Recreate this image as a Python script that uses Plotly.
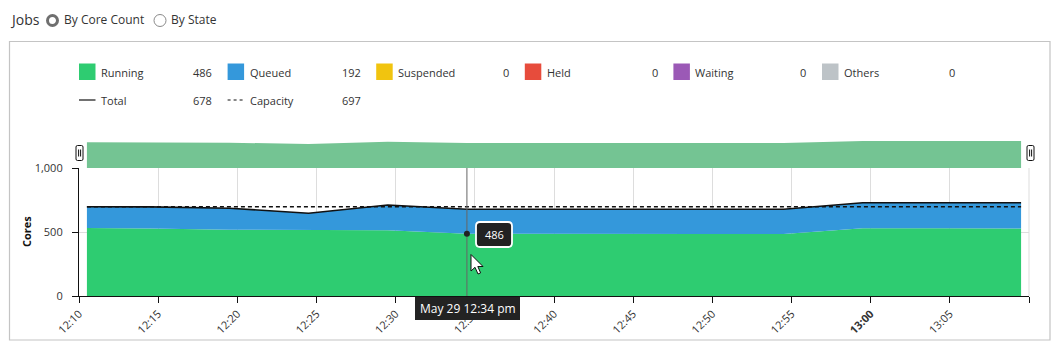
import plotly.graph_objects as go

# ---------------- data ----------------
times = ["2024-05-29 12:10:30", "2024-05-29 12:14:30", "2024-05-29 12:19:30",
         "2024-05-29 12:24:30", "2024-05-29 12:29:30", "2024-05-29 12:34:30",
         "2024-05-29 12:39:30", "2024-05-29 12:44:30", "2024-05-29 12:49:30",
         "2024-05-29 12:54:30", "2024-05-29 12:59:30", "2024-05-29 13:04:30",
         "2024-05-29 13:09:30"]
running = [531, 528, 518, 513, 513, 486, 484, 484, 484, 484, 530, 529, 528]
queued = [166, 168, 168, 133, 198, 192, 194, 194, 194, 194, 199, 200, 201]
suspended = [0] * 13
held = [0] * 13
waiting = [0] * 13
others = [0] * 13
capacity = [697] * 13

tick_times = ["2024-05-29 12:10", "2024-05-29 12:15", "2024-05-29 12:20", "2024-05-29 12:25",
              "2024-05-29 12:30", "2024-05-29 12:35", "2024-05-29 12:40", "2024-05-29 12:45",
              "2024-05-29 12:50", "2024-05-29 12:55", "2024-05-29 13:00", "2024-05-29 13:05",
              "2024-05-29 13:10"]
tick_text = ["12:10", "12:15", "12:20", "12:25", "12:30", "12:35", "12:40", "12:45",
             "12:50", "12:55", "<b>13:00</b>", "13:05", ""]
hover_index = 5
hover_label = "May 29 12:34 pm"

series_names = ["Running", "Queued", "Suspended", "Held", "Waiting", "Others"]
series_colors = ["#2ecc71", "#3498db", "#f1c40f", "#e74c3c", "#9b59b6", "#bdc3c7"]
series_values = [running, queued, suspended, held, waiting, others]

total = [sum(v) for v in zip(*series_values)]

# ---------------- layout helpers ----------------
# page body has an 8px margin: figure covers window pixels 8..(8+W)
OFF = 8
W, H = 1061 - 2 * OFF, 358 - 2 * OFF
L, R, T, B = 79, 1029, 141, 296          # window-pixel coordinates of plot area
MAIN_TOP = 168
FONT = "Open Sans"
TXT = "#333333"


def px(x):
    return (x - L) / (R - L)


def py(y):
    return (B - y) / (B - T)


split = (B - MAIN_TOP) / (B - T)

fig = go.Figure()

# navigator (mini chart)
fig.add_trace(go.Scatter(x=times, y=total, xaxis="x2", yaxis="y2", mode="lines",
                         line=dict(width=0, color="rgb(116,196,147)"), fill="tozeroy",
                         fillcolor="rgb(116,196,147)", hoverinfo="skip", showlegend=False))

# stacked areas
for name, color, vals in zip(series_names, series_colors, series_values):
    fig.add_trace(go.Scatter(x=times, y=vals, name=name, mode="lines", stackgroup="jobs",
                             line=dict(width=0, color=color), fillcolor=color,
                             showlegend=False))

fig.add_trace(go.Scatter(x=times, y=total, name="Total", mode="lines",
                         line=dict(color="#111111", width=1.6), showlegend=False))
fig.add_trace(go.Scatter(x=times, y=capacity, name="Capacity", mode="lines",
                         line=dict(color="#111111", width=1.5, dash="4px,3px"), showlegend=False))

# crosshair (main plot only)
fig.add_trace(go.Scatter(x=[times[hover_index], times[hover_index]], y=[0, 1000], mode="lines",
                         line=dict(color="#666666", width=1), showlegend=False, hoverinfo="skip",
                         cliponaxis=True))

# hover dot
fig.add_trace(go.Scatter(x=[times[hover_index]], y=[running[hover_index]], mode="markers",
                         marker=dict(color="#222222", size=6), showlegend=False, hoverinfo="skip"))

shapes = []
annotations = []

# right edge grid line
shapes.append(dict(type="line", xref="paper", yref="paper", x0=1, x1=1, y0=0, y1=split,
                   line=dict(color="#dddddd", width=1), layer="below"))

# outer frame
shapes.append(dict(type="rect", xref="paper", yref="paper", x0=px(9.5), x1=px(1050), y0=py(41.5), y1=py(340),
                   line=dict(color="#c4c4c4", width=1.2), layer="below"))


def rounded_rect(x0, y0, x1, y1, r):
    pts = (f"M {px(x0 + r)},{py(y0)} L {px(x1 - r)},{py(y0)} "
           f"Q {px(x1)},{py(y0)} {px(x1)},{py(y0 + r)} L {px(x1)},{py(y1 - r)} "
           f"Q {px(x1)},{py(y1)} {px(x1 - r)},{py(y1)} L {px(x0 + r)},{py(y1)} "
           f"Q {px(x0)},{py(y1)} {px(x0)},{py(y1 - r)} L {px(x0)},{py(y0 + r)} "
           f"Q {px(x0)},{py(y0)} {px(x0 + r)},{py(y0)} Z")
    return pts


# navigator handles
for hx in (76, 1027):
    shapes.append(dict(type="path", xref="paper", yref="paper", path=rounded_rect(hx, 145.5, hx + 7, 160.5, 1.5),
                       fillcolor="white", line=dict(color="#111111", width=1), layer="above"))
    for dx in (2.6, 4.6):
        shapes.append(dict(type="line", xref="paper", yref="paper", x0=px(hx + dx), x1=px(hx + dx),
                           y0=py(149.5), y1=py(156.5), line=dict(color="#111111", width=1), layer="above"))

# value label box (486)
shapes.append(dict(type="path", xref="paper", yref="paper", path=rounded_rect(476, 222, 512, 247, 4),
                   fillcolor="#222222", line=dict(color="white", width=1.8), layer="above"))
annotations.append(dict(xref="paper", yref="paper", x=px(494), y=py(234.5), text=str(running[hover_index]),
                        showarrow=False, font=dict(family=FONT, size=11, color="white"),
                        xanchor="center", yanchor="middle"))

# mouse cursor
cx, cy = 471, 254.5
cur = [(0, 0), (0, 16.5), (4, 12.8), (7, 19.5), (9.6, 18.4), (6.8, 12), (12, 12)]
path = "M " + " L ".join(f"{px(cx + a)},{py(cy + b)}" for a, b in cur) + " Z"
shapes.append(dict(type="path", xref="paper", yref="paper", path=path, fillcolor="white",
                   line=dict(color="#111111", width=1), layer="above"))

# x tooltip
shapes.append(dict(type="rect", xref="paper", yref="paper", x0=px(415), x1=px(520), y0=py(297), y1=py(320),
                   fillcolor="#232323", line=dict(width=0), layer="above"))
annotations.append(dict(xref="paper", yref="paper", x=px(467.5), y=py(308.5), text=hover_label,
                        showarrow=False, font=dict(family=FONT, size=12, color="white"),
                        xanchor="center", yanchor="middle"))

# y axis title
annotations.append(dict(xref="paper", yref="paper", x=px(26), y=py(232), text="<b>Cores</b>",
                        textangle=-90, showarrow=False, font=dict(family=FONT, size=11, color="#111111"),
                        xanchor="center", yanchor="middle"))

# header: Jobs + radio buttons
annotations.append(dict(xref="paper", yref="paper", x=px(7.5), y=py(19.5), text="Jobs", showarrow=False,
                        font=dict(family=FONT, size=14, color=TXT), xanchor="left", yanchor="middle"))
shapes.append(dict(type="circle", xref="paper", yref="paper", x0=px(47.5), x1=px(57.5), y0=py(15.5), y1=py(25.5),
                   fillcolor="white", line=dict(color="#6f6f6f", width=3)))
annotations.append(dict(xref="paper", yref="paper", x=px(62), y=py(19.5), text="By Core Count", showarrow=False,
                        font=dict(family=FONT, size=12, color=TXT), xanchor="left", yanchor="middle"))
shapes.append(dict(type="circle", xref="paper", yref="paper", x0=px(154), x1=px(166), y0=py(14.5), y1=py(26.5),
                   fillcolor="white", line=dict(color="#8a8a8a", width=1)))
annotations.append(dict(xref="paper", yref="paper", x=px(169), y=py(19.5), text="By State", showarrow=False,
                        font=dict(family=FONT, size=12, color=TXT), xanchor="left", yanchor="middle"))

# custom legend
step = 148.6
row1, row2 = 72, 100
for i, (name, color, vals) in enumerate(zip(series_names, series_colors, series_values)):
    x0 = 79 + i * step
    shapes.append(dict(type="rect", xref="paper", yref="paper", x0=px(x0), x1=px(x0 + 16.5),
                       y0=py(row1 - 8.5), y1=py(row1 + 8), fillcolor=color, line=dict(width=0)))
    annotations.append(dict(xref="paper", yref="paper", x=px(x0 + 20), y=py(row1), text=name, showarrow=False,
                            font=dict(family=FONT, size=11, color=TXT), xanchor="left", yanchor="middle"))
    annotations.append(dict(xref="paper", yref="paper", x=px(x0 + 135), y=py(row1), text=str(vals[hover_index]),
                            showarrow=False, font=dict(family=FONT, size=11, color=TXT),
                            xanchor="right", yanchor="middle"))

line_items = [("Total", total[hover_index], "solid"), ("Capacity", capacity[hover_index], "3px,3px")]
for i, (name, val, dash) in enumerate(line_items):
    x0 = 79 + i * step
    shapes.append(dict(type="line", xref="paper", yref="paper", x0=px(x0), x1=px(x0 + 16.5),
                       y0=py(row2), y1=py(row2), line=dict(color="#111111", width=1.2, dash=dash)))
    annotations.append(dict(xref="paper", yref="paper", x=px(x0 + 20), y=py(row2), text=name, showarrow=False,
                            font=dict(family=FONT, size=11, color=TXT), xanchor="left", yanchor="middle"))
    annotations.append(dict(xref="paper", yref="paper", x=px(x0 + 135), y=py(row2), text=str(val),
                            showarrow=False, font=dict(family=FONT, size=11, color=TXT),
                            xanchor="right", yanchor="middle"))

x_range = ["2024-05-29 12:10", "2024-05-29 13:10"]

fig.update_layout(
    width=W, height=H,
    margin=dict(l=L - OFF, r=(W + OFF) - R, t=T - OFF, b=(H + OFF) - B, pad=0),
    paper_bgcolor="white", plot_bgcolor="white",
    font=dict(family=FONT, size=11, color=TXT),
    showlegend=False,
    hovermode=False,
    xaxis=dict(type="date", range=x_range, tickvals=tick_times, ticktext=tick_text, tickangle=-45,
               ticks="outside", ticklen=6, tickcolor="#111111", tickwidth=1,
               showline=True, linecolor="#111111", linewidth=1.2,
               showgrid=True, gridcolor="#dddddd", gridwidth=1, zeroline=False,
               tickfont=dict(family=FONT, size=11, color=TXT), anchor="y"),
    yaxis=dict(domain=[0, split], range=[0, 1000], tickvals=[0, 500, 1000], ticktext=["0", "500", "1,000"],
               ticks="outside", ticklen=6, tickcolor="#111111", tickwidth=1,
               showline=True, linecolor="#111111", linewidth=1.2,
               showgrid=True, gridcolor="#dddddd", gridwidth=1, zeroline=False,
               ticklabelstandoff=7,
               tickfont=dict(family=FONT, size=11, color=TXT), anchor="x"),
    xaxis2=dict(type="date", range=x_range, visible=False, anchor="y2", showgrid=False),
    yaxis2=dict(domain=[split, 1], range=[0, 730], visible=False, anchor="x2", showgrid=False),
    shapes=shapes,
    annotations=annotations,
)

fig.write_html("out.html")
